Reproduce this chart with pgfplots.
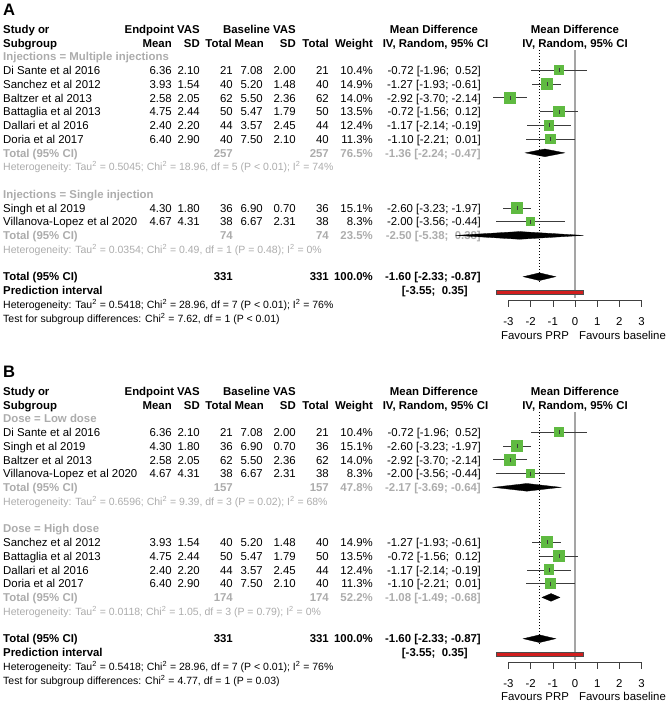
\documentclass[border=0pt]{standalone}
\usepackage{pgfplots}
\pgfplotsset{compat=1.18}
\usepackage{pgfplotstable}
\usepackage{fontspec}
\setmainfont{Liberation Sans}
\definecolor{sqgreen}{RGB}{95,186,65}
\definecolor{subgray}{RGB}{172,172,172}
\definecolor{cigray}{RGB}{60,60,60}
\definecolor{refgray}{RGB}{165,165,165}
\definecolor{predred}{RGB}{210,30,30}
\newcommand\fs{\fontsize{11.4pt}{13pt}\selectfont}
\newcommand\fh{\fontsize{10.5pt}{12pt}\selectfont}
\newcommand\tp{\textsuperscript{2}}

% study estimates: row, mean difference, lower, upper, weight
\pgfplotstableread{
row md lo hi w
3 -0.72 -1.96 0.52 10.4
4 -1.27 -1.93 -0.61 14.9
5 -2.92 -3.70 -2.14 14.0
6 -0.72 -1.56 0.12 13.5
7 -1.17 -2.14 -0.19 12.4
8 -1.10 -2.21 0.01 11.3
13 -2.60 -3.23 -1.97 15.1
14 -2.00 -3.56 -0.44 8.3
}\studA
\pgfplotstableread{
row md lo hi w
3 -0.72 -1.96 0.52 10.4
4 -2.60 -3.23 -1.97 15.1
5 -2.92 -3.70 -2.14 14.0
6 -2.00 -3.56 -0.44 8.3
11 -1.27 -1.93 -0.61 14.9
12 -0.72 -1.56 0.12 13.5
13 -1.17 -2.14 -0.19 12.4
14 -1.10 -2.21 0.01 11.3
}\studB

\pgfplotsset{forest/.style={
  x=22.2pt, y=13.76pt, xmin=-3, xmax=3, ymin=-19.69, ymax=0, clip=false,
  axis x line*=bottom, axis y line=none, ytick=\empty,
  xtick={-3,-2,-1,0,1,2,3}, xticklabels={-3,-2,-1,0,1,2,3},
  tick align=outside, major tick length=7pt,
  x axis line style={-, black!75, line width=0.6pt},
  xtick style={black!75, line width=0.6pt},
  xticklabel style={font=\fs, anchor=base, yshift=-19pt},
}}

\tikzset{
  L/.style={anchor=base west, inner sep=0pt, font=\fs},
  R/.style={anchor=base east, inner sep=0pt, font=\fs},
  C/.style={anchor=base, inner sep=0pt, font=\fs},
}

\newcommand\hdr{%
  \node[L,font=\fs\bfseries] at (3,0) {Study or};
  \node[R,font=\fs\bfseries] at (200,0) {Endpoint VAS};
  \node[R,font=\fs\bfseries] at (296,0) {Baseline VAS};
  \node[C,font=\fs\bfseries] at (434,0) {Mean Difference};
  \node[C,font=\fs\bfseries] at (575,0) {Mean Difference};
  \node[L,font=\fs\bfseries] at (3,1) {Subgroup};
  \foreach \xx/\tt in {172/Mean,200/SD,232/Total,264/Mean,296/SD,329/Total,373/Weight}
    {\node[R,font=\fs\bfseries] at (\xx,1) {\tt};}
  \node[C,font=\fs\bfseries] at (435.5,1) {IV, Random, 95\% CI};
  \node[C,font=\fs\bfseries] at (575,1) {IV, Random, 95\% CI};
}
\newcommand\studyrows[1]{%
  \foreach \rr/\nm/\va/\vb/\vc/\vd/\ve/\vf/\vw/\vm in {#1}{%
    \node[L,font=\fs] at (3,\rr) {\nm};
    \node[R,font=\fs] at (172,\rr) {\va};
    \node[R,font=\fs] at (200,\rr) {\vb};
    \node[R,font=\fs] at (233,\rr) {\vc};
    \node[R,font=\fs] at (263,\rr) {\vd};
    \node[R,font=\fs] at (296,\rr) {\ve};
    \node[R,font=\fs] at (329,\rr) {\vf};
    \node[R,font=\fs] at (373,\rr) {\vw\%};
    \node[R,font=\fs] at (481,\rr) {\vm};
  }%
}
\newcommand\totrow[6]{% row, n1, n2, weight, md, colour
  \node[L,font=\fs\bfseries,text=#6] at (3,#1) {Total (95\% CI)};
  \node[R,font=\fs\bfseries,text=#6] at (233,#1) {#2};
  \node[R,font=\fs\bfseries,text=#6] at (329,#1) {#3};
  \node[R,font=\fs\bfseries,text=#6] at (373,#1) {#4\%};
  \node[R,font=\fs\bfseries,text=#6] at (481,#1) {#5};
}

\begin{document}
\begin{tikzpicture}[x=1pt,y=1pt]
\useasboundingbox (0,0) rectangle (670,-702);

% ================= Panel A text =================
\node[anchor=base west, inner sep=0pt, font=\fontsize{16.6pt}{18pt}\selectfont\bfseries] at (3,-15) {A};
\begin{scope}[shift={(0pt,-33.3pt)}, x=1pt, y=-13.76pt]
  \hdr
  \node[L,font=\fs\bfseries,text=subgray] at (3,2) {Injections = Multiple injections};
  \studyrows{
    3/Di Sante et al 2016/6.36/2.10/21/7.08/2.00/21/10.4/{-0.72 [-1.96; \ 0.52]},
    4/Sanchez et al 2012/3.93/1.54/40/5.20/1.48/40/14.9/{-1.27 [-1.93; -0.61]},
    5/Baltzer et al 2013/2.58/2.05/62/5.50/2.36/62/14.0/{-2.92 [-3.70; -2.14]},
    6/Battaglia et al 2013/4.75/2.44/50/5.47/1.79/50/13.5/{-0.72 [-1.56; \ 0.12]},
    7/Dallari et al 2016/2.40/2.20/44/3.57/2.45/44/12.4/{-1.17 [-2.14; -0.19]},
    8/Doria et al 2017/6.40/2.90/40/7.50/2.10/40/11.3/{-1.10 [-2.21; \ 0.01]}}
  \totrow{9}{257}{257}{76.5}{-1.36 [-2.24; -0.47]}{subgray}
  \node[L,font=\fh,text=subgray] at (3,10) {Heterogeneity: Tau\tp{} = 0.5045; Chi\tp{} = 18.96, df = 5 (P < 0.01); I\tp{} = 74\%};
  \node[L,font=\fs\bfseries,text=subgray] at (3,12) {Injections = Single injection};
  \studyrows{
    13/Singh et al 2019/4.30/1.80/36/6.90/0.70/36/15.1/{-2.60 [-3.23; -1.97]},
    14/Villanova-Lopez et al 2020/4.67/4.31/38/6.67/2.31/38/8.3/{-2.00 [-3.56; -0.44]}}
  \totrow{15}{74}{74}{23.5}{-2.50 [-5.38; \ 0.38]}{subgray}
  \node[L,font=\fh,text=subgray] at (3,16) {Heterogeneity: Tau\tp{} = 0.0354; Chi\tp{} = 0.49, df = 1 (P = 0.48); I\tp{} = 0\%};
  \totrow{18}{331}{331}{100.0}{-1.60 [-2.33; -0.87]}{black}
  \node[L,font=\fs\bfseries] at (3,19) {Prediction interval};
  \node[R,font=\fs\bfseries] at (468,19) {[-3.55; \ 0.35]};
  \node[L,font=\fh] at (3,20) {Heterogeneity: Tau\tp{} = 0.5418; Chi\tp{} = 28.96, df = 7 (P < 0.01); I\tp{} = 76\%};
  \node[L,font=\fh] at (3,21) {Test for subgroup differences: Chi\tp{} = 7.62, df = 1 (P < 0.01)};
\end{scope}
\node[C] at (535,-339) {Favours PRP};
\node[C] at (622.5,-339) {Favours baseline};

% ================= Panel B text =================
\node[anchor=base west, inner sep=0pt, font=\fontsize{16.6pt}{18pt}\selectfont\bfseries] at (3,-377) {B};
\begin{scope}[shift={(0pt,-395.3pt)}, x=1pt, y=-13.76pt]
  \hdr
  \node[L,font=\fs\bfseries,text=subgray] at (3,2) {Dose = Low dose};
  \studyrows{
    3/Di Sante et al 2016/6.36/2.10/21/7.08/2.00/21/10.4/{-0.72 [-1.96; \ 0.52]},
    4/Singh et al 2019/4.30/1.80/36/6.90/0.70/36/15.1/{-2.60 [-3.23; -1.97]},
    5/Baltzer et al 2013/2.58/2.05/62/5.50/2.36/62/14.0/{-2.92 [-3.70; -2.14]},
    6/Villanova-Lopez et al 2020/4.67/4.31/38/6.67/2.31/38/8.3/{-2.00 [-3.56; -0.44]}}
  \totrow{7}{157}{157}{47.8}{-2.17 [-3.69; -0.64]}{subgray}
  \node[L,font=\fh,text=subgray] at (3,8) {Heterogeneity: Tau\tp{} = 0.6596; Chi\tp{} = 9.39, df = 3 (P = 0.02); I\tp{} = 68\%};
  \node[L,font=\fs\bfseries,text=subgray] at (3,10) {Dose = High dose};
  \studyrows{
    11/Sanchez et al 2012/3.93/1.54/40/5.20/1.48/40/14.9/{-1.27 [-1.93; -0.61]},
    12/Battaglia et al 2013/4.75/2.44/50/5.47/1.79/50/13.5/{-0.72 [-1.56; \ 0.12]},
    13/Dallari et al 2016/2.40/2.20/44/3.57/2.45/44/12.4/{-1.17 [-2.14; -0.19]},
    14/Doria et al 2017/6.40/2.90/40/7.50/2.10/40/11.3/{-1.10 [-2.21; \ 0.01]}}
  \totrow{15}{174}{174}{52.2}{-1.08 [-1.49; -0.68]}{subgray}
  \node[L,font=\fh,text=subgray] at (3,16) {Heterogeneity: Tau\tp{} = 0.0118; Chi\tp{} = 1.05, df = 3 (P = 0.79); I\tp{} = 0\%};
  \totrow{18}{331}{331}{100.0}{-1.60 [-2.33; -0.87]}{black}
  \node[L,font=\fs\bfseries] at (3,19) {Prediction interval};
  \node[R,font=\fs\bfseries] at (468,19) {[-3.55; \ 0.35]};
  \node[L,font=\fh] at (3,20) {Heterogeneity: Tau\tp{} = 0.5418; Chi\tp{} = 28.96, df = 7 (P < 0.01); I\tp{} = 76\%};
  \node[L,font=\fh] at (3,21) {Test for subgroup differences: Chi\tp{} = 4.77, df = 1 (P = 0.03)};
\end{scope}
\node[C] at (535,-700) {Favours PRP};
\node[C] at (622.5,-700) {Favours baseline};

% ================= Panel A forest =================
\begin{axis}[forest, at={(508.4pt,-29pt)}, anchor=north west]
  \addplot[refgray, line width=1.3pt] coordinates {(0,-1.53) (0,-19.55)};
  \addplot[black, line width=0.6pt, dash pattern=on 0.8pt off 2.2pt] coordinates {(-1.6,-1.53) (-1.6,-18.45)};
  \addplot[scatter, only marks, mark=square*,
    scatter/use mapped color={draw opacity=0, fill=sqgreen},
    visualization depends on={1.55*sqrt(\thisrow{w}) \as \ms},
    scatter/@pre marker code/.append style={/tikz/mark size=\ms}]
    table[x=md, y expr=-\thisrow{row}] {\studA};
  \addplot[only marks, mark=|, mark size=2pt, cigray, mark options={line width=0.6pt},
    error bars/.cd, x dir=both, x explicit, error mark=none,
    error bar style={cigray, line width=0.7pt}]
    table[x=md, y expr=-\thisrow{row},
      x error plus expr=\thisrow{hi}-\thisrow{md},
      x error minus expr=\thisrow{md}-\thisrow{lo}] {\studA};
  \addplot[fill=black, draw=black, line width=0.3pt] coordinates {(-2.24,-9) (-1.36,-8.72) (-0.47,-9) (-1.36,-9.28)} --cycle;
  \addplot[fill=black, draw=black, line width=0.3pt] coordinates {(-5.38,-15) (-2.50,-14.72) (0.38,-15) (-2.50,-15.28)} --cycle;
  \addplot[fill=black, draw=black, line width=0.3pt] coordinates {(-2.33,-18) (-1.60,-17.72) (-0.87,-18) (-1.60,-18.28)} --cycle;
  \addplot[fill=predred, draw=black!70, line width=0.5pt] coordinates {(-3.55,-19.0) (0.35,-19.0) (0.35,-19.25) (-3.55,-19.25)} --cycle;
\end{axis}

% ================= Panel B forest =================
\begin{axis}[forest, at={(508.4pt,-391pt)}, anchor=north west]
  \addplot[refgray, line width=1.3pt] coordinates {(0,-1.53) (0,-19.55)};
  \addplot[black, line width=0.6pt, dash pattern=on 0.8pt off 2.2pt] coordinates {(-1.6,-1.53) (-1.6,-18.45)};
  \addplot[scatter, only marks, mark=square*,
    scatter/use mapped color={draw opacity=0, fill=sqgreen},
    visualization depends on={1.55*sqrt(\thisrow{w}) \as \ms},
    scatter/@pre marker code/.append style={/tikz/mark size=\ms}]
    table[x=md, y expr=-\thisrow{row}] {\studB};
  \addplot[only marks, mark=|, mark size=2pt, cigray, mark options={line width=0.6pt},
    error bars/.cd, x dir=both, x explicit, error mark=none,
    error bar style={cigray, line width=0.7pt}]
    table[x=md, y expr=-\thisrow{row},
      x error plus expr=\thisrow{hi}-\thisrow{md},
      x error minus expr=\thisrow{md}-\thisrow{lo}] {\studB};
  \addplot[fill=black, draw=black, line width=0.3pt] coordinates {(-3.69,-7) (-2.17,-6.72) (-0.64,-7) (-2.17,-7.28)} --cycle;
  \addplot[fill=black, draw=black, line width=0.3pt] coordinates {(-1.49,-15) (-1.08,-14.72) (-0.68,-15) (-1.08,-15.28)} --cycle;
  \addplot[fill=black, draw=black, line width=0.3pt] coordinates {(-2.33,-18) (-1.60,-17.72) (-0.87,-18) (-1.60,-18.28)} --cycle;
  \addplot[fill=predred, draw=black!70, line width=0.5pt] coordinates {(-3.55,-19.0) (0.35,-19.0) (0.35,-19.25) (-3.55,-19.25)} --cycle;
\end{axis}
\end{tikzpicture}
\end{document}
